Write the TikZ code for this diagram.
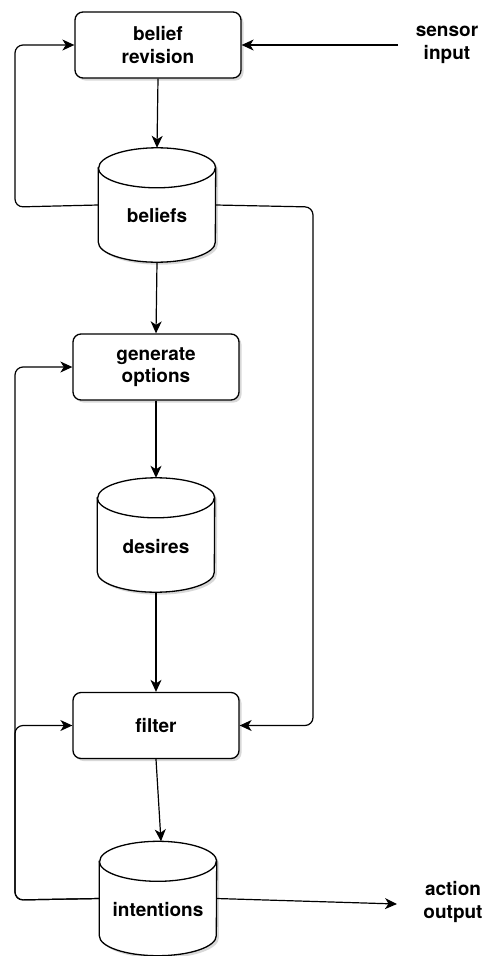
\documentclass[tikz,border=0pt]{standalone}
\usepackage{fontspec}
\setmainfont{TeX Gyre Heros}
\usetikzlibrary{arrows.meta}
\usetikzlibrary{shadows}

\begin{document}
\begin{tikzpicture}[x=1pt,y=1pt,
    font=\fontsize{19}{22.5}\selectfont\bfseries,
    shade/.style={drop shadow={shadow xshift=2.5pt,shadow yshift=-2.5pt,fill=black!30}},
    stepbox/.style={draw,line width=1.3pt,fill=white,rounded corners=8pt,shade,
      minimum width=166pt,minimum height=66pt,align=center},
    store/.style={minimum width=117pt,minimum height=114pt,inner sep=0pt},
    io/.style={align=center},
    link/.style={line width=1.2pt,-{Stealth[length=12pt,width=11pt,inset=3.5pt]},rounded corners=8pt}]
  \useasboundingbox (0,0) rectangle (488,-956);

  % Boxes
  \node[stepbox] (revise) at (158,-45) {belief\\revision};
  \node[stepbox] (options) at (156,-367) {generate\\options};
  \node[stepbox] (filter) at (156,-725.5) {filter};

  % Stores
  \node[store] (beliefs) at (157,-205) {};
  \node[store] (desires) at (156,-535) {};
  \node[store] (intentions) at (158,-898.5) {};
  \foreach \n in {beliefs,desires,intentions} {
    \draw[line width=1.3pt,fill=white,shade]
      ([yshift=-20pt]\n.north west) -- ([yshift=20pt]\n.south west)
      arc (180:360:58.5pt and 20pt) -- ([yshift=-20pt]\n.north east)
      arc (0:180:58.5pt and 20pt) -- cycle;
    \draw[line width=1.3pt] ([yshift=-20pt]\n.north west) arc (180:360:58.5pt and 20pt);
    \node at ([yshift=-11pt]\n.center) {\n};
  }

  % Input and output
  \node[io] (sensor) at (447,-45) {sensor\\input};
  \node[io] (action) at (453,-902) {action\\output};
  \coordinate (in) at (398,-45);
  \coordinate (out) at (397,-904);

  % Main flow
  \draw[link] (in) -- (revise.east);
  \draw[link] (revise.south) -- (beliefs.north);
  \draw[link] (beliefs.south) -- (options.north);
  \draw[link] (options.south) -- (desires.north);
  \draw[link] (desires.south) -- (filter.north);
  \draw[link] (filter.south) -- ([xshift=3pt]intentions.north);
  \draw[link] (intentions.east) -- (out);

  % Feedback
  \draw[link] (beliefs.west) -- (15,-207) -- (15,-45) -- (revise.west);
  \draw[link] (beliefs.east) -- (313,-207) -- (313,-725.5) -- (filter.east);
  \draw[link] (intentions.west) -- (15,-900) -- (15,-367) -- (options.west);
  \draw[link] (intentions.west) -- (15,-900) -- (15,-725.5) -- (filter.west);
\end{tikzpicture}
\end{document}
